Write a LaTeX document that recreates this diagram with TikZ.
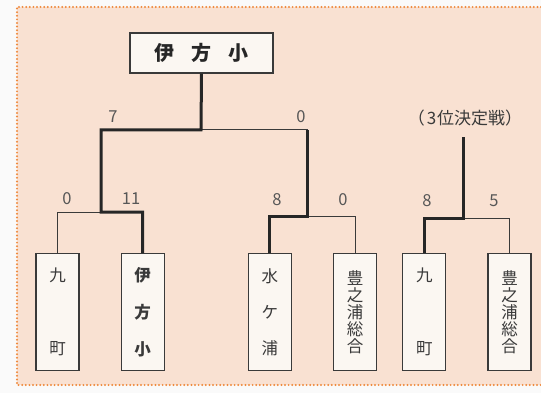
\documentclass[tikz,border=0pt]{standalone}
\usepackage{fontspec}
\setmainfont{Noto Sans CJK JP}
\usetikzlibrary{positioning,calc}
\definecolor{peach}{HTML}{F9E1D2}
\definecolor{dotorange}{HTML}{EF8A3E}
\definecolor{boxfill}{HTML}{FBF7F2}
\definecolor{inkgray}{HTML}{3A3A3A}

\begin{document}
\begin{tikzpicture}[
    x=1pt, y=-1pt,
    thin_line/.style={line width=1pt, draw=inkgray},
    win_line/.style={line width=3pt, draw=black!85},
    team_node/.style={draw=inkgray, line width=1.2pt, fill=boxfill, rectangle,
        minimum width=43pt, minimum height=117pt, inner sep=0pt, align=center,
        text=inkgray, font=\fontsize{16.5}{17}\selectfont},
    champ_node/.style={draw=inkgray, line width=1.2pt, fill=boxfill, rectangle,
        minimum width=143pt, minimum height=40pt, inner sep=0pt,
        text=black!85, font=\fontsize{20}{20}\selectfont\bfseries},
    score_label/.style={text=inkgray!85, font=\fontsize{16.5}{16}\selectfont}
]

% --- BACKGROUND ---
\useasboundingbox (0,0) rectangle (541,393);
\fill[gray!4] (0,0) rectangle (541,393);
\fill[peach] (17,7) rectangle (541,385);
\draw[dotorange, line width=2.2pt, dash pattern=on 0pt off 3.6pt, line cap=round]
    (541,7) -- (17,7) -- (17,385) -- (541,385);

% --- NODES ---
\node[champ_node] (champ) at (201.5,53) {伊\hspace{17pt}方\hspace{17pt}小};

\node[team_node, anchor=north] (kokono_a) at (57.5,253) {九\\[56pt]町};
\node[team_node, right=41pt of kokono_a, font=\fontsize{16.5}{17}\selectfont\bfseries] (ikata) {伊\\[20pt]方\\[20pt]小};
\node[team_node, right=83pt of ikata] (mizugaura) {水\\[19pt]ケ\\[19pt]浦};
\node[team_node, right=41pt of mizugaura] (toyonoura_a) {豊\\之\\浦\\総\\合};
\node[team_node, right=25pt of toyonoura_a] (kokono_b) {九\\[56pt]町};
\node[team_node, right=41pt of kokono_b] (toyonoura_b) {豊\\之\\浦\\総\\合};

\node[text=inkgray, font=\fontsize{17}{17}\selectfont] (third_label) at (465,118) {（\hspace{2pt}3\hspace{1pt}位決定戦）};

% junctions
\coordinate (j_final) at (201,130);
\coordinate (j_semi_a) at (101,212);
\coordinate (j_semi_b) at (307,216);
\coordinate (j_third) at (463,218);
\coordinate (j_third_top) at (463,137);

% --- EDGES ---
% losers first, winners drawn over them
\draw[thin_line] (kokono_a.north) |- (j_semi_a);
\draw[thin_line] (toyonoura_a.north) |- (j_semi_b);
\draw[thin_line] (j_final) -| (j_semi_b);
\draw[thin_line] (toyonoura_b.north) |- (j_third);

\draw[win_line] (ikata.north) |- (j_semi_a) |- (j_final) -- (champ.south);
\draw[win_line] (mizugaura.north) |- (j_semi_b) -- (j_semi_b |- j_final);
\draw[win_line] (kokono_b.north) |- (j_third) -- (j_third_top);

% scores
\node[score_label] (s_final_a) at (113,117) {7};
\node[score_label] (s_final_b) at (301,117) {0};
\node[score_label] (s_semi_a1) at (67,199) {0};
\node[score_label] (s_semi_a2) at (131,199) {11};
\node[score_label] (s_semi_b1) at (277,200) {8};
\node[score_label] (s_semi_b2) at (343,200) {0};
\node[score_label] (s_third1) at (427,201) {8};
\node[score_label] (s_third2) at (494,201) {5};

\end{tikzpicture}
\end{document}
